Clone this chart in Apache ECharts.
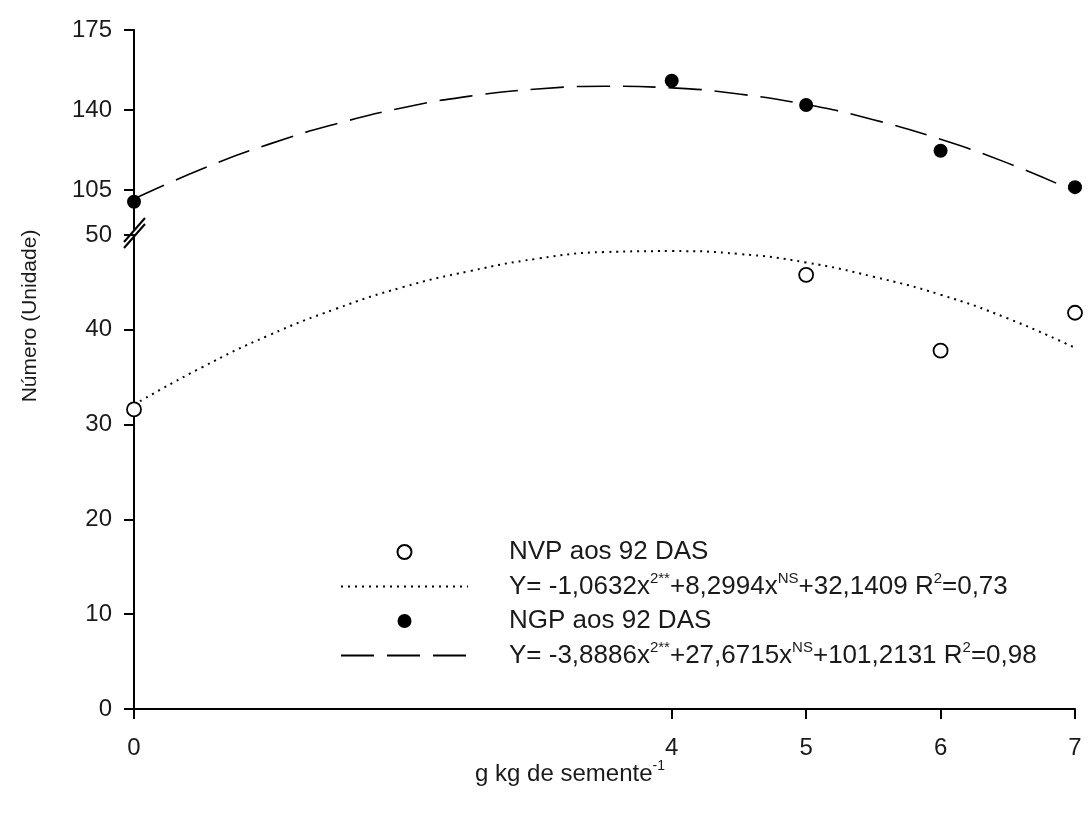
<!DOCTYPE html>
<html>
<head>
<meta charset="utf-8">
<title>NVP e NGP aos 92 DAS</title>
<script src="https://cdn.jsdelivr.net/npm/echarts@6/dist/echarts.min.js"></script>
<style>
  html, body { margin: 0; padding: 0; background: #fff; }
  #chart { width: 1088px; height: 823px; }
</style>
</head>
<body>
<div id="chart"></div>
<script>
// dose axis (g kg de semente-1) and tick labels
const xTicks = [0, 4, 5, 6, 7];
const upperTicks = [105, 140, 175];

// observed points
const ngpX = [0, 4, 5, 6, 7];
const ngpY = [99.9, 152.8, 142.2, 122.2, 106.3];
const nvpX = [0, 5, 6, 7];
const nvpY = [31.6, 45.8, 37.8, 41.8];

// fitted curves, every 0.5
const curveX = [0, 0.5, 1, 1.5, 2, 2.5, 3, 3.5, 4, 4.5, 5, 5.5, 6, 6.5, 7];
const ngpCurve = [101.2, 114.1, 125.0, 133.9, 141.0, 146.1, 149.2, 150.4, 149.7, 147.0, 142.4, 135.8, 127.2, 116.8, 104.4];
const nvpCurve = [32.1, 36.0, 39.4, 42.2, 44.5, 46.2, 47.5, 48.2, 48.3, 48.0, 47.1, 45.6, 43.7, 41.2, 38.1];

const FONT = '"Liberation Sans", Arial, sans-serif';
const INK = '#1a1a1a';

const legendText = {
  'NVP aos 92 DAS': 'NVP aos 92 DAS',
  'nvpFit': 'Y= -1,0632x{sup|2**}+8,2994x{sup|NS}+32,1409 R{sup|2}=0,73',
  'NGP aos 92 DAS': 'NGP aos 92 DAS',
  'ngpFit': 'Y= -3,8886x{sup|2**}+27,6715x{sup|NS}+101,2131 R{sup|2}=0,98'
};

const pairs = (xs, ys) => xs.map((x, i) => [x, ys[i]]);

const axisLine = { show: true, lineStyle: { color: '#000', width: 2 } };
const axisTick = { show: true, length: 10, lineStyle: { color: '#000', width: 2 } };
const axisLabel = { color: INK, fontSize: 24, fontFamily: FONT, margin: 22 };
// hides the dot that line series put in their legend icon
const noDot = { color: 'rgba(0,0,0,0)', borderColor: 'rgba(0,0,0,0)', borderWidth: 0 };

const chart = echarts.init(document.getElementById('chart'));

chart.setOption({
  animation: false,
  backgroundColor: '#fff',
  grid: [
    { left: 134, right: 13, top: 30, height: 199 },   // 88 .. 175
    { left: 134, right: 13, top: 235, height: 474 }   // 0 .. 50
  ],
  xAxis: [
    { type: 'value', gridIndex: 0, min: 0, max: 7, show: false },
    {
      type: 'value', gridIndex: 1, min: 0, max: 7,
      axisLine: axisLine,
      axisTick: Object.assign({ customValues: xTicks }, axisTick),
      axisLabel: Object.assign({ customValues: xTicks }, axisLabel, { margin: 27 }),
      splitLine: { show: false }
    }
  ],
  yAxis: [
    {
      type: 'value', gridIndex: 0, min: 88, max: 175,
      axisLine: axisLine,
      axisTick: Object.assign({ customValues: upperTicks }, axisTick),
      axisLabel: Object.assign({ customValues: upperTicks }, axisLabel),
      splitLine: { show: false }
    },
    {
      type: 'value', gridIndex: 1, min: 0, max: 50, interval: 10,
      axisLine: axisLine,
      axisTick: axisTick,
      axisLabel: axisLabel,
      splitLine: { show: false }
    }
  ],
  legend: {
    left: 340,
    top: 537,
    padding: 0,
    orient: 'vertical',
    itemWidth: 127,
    itemHeight: 14,
    itemGap: 4.5,
    selectedMode: false,
    data: ['NVP aos 92 DAS', 'nvpFit', 'NGP aos 92 DAS', 'ngpFit'],
    formatter: name => legendText[name],
    textStyle: {
      color: INK, fontSize: 26, fontFamily: FONT, lineHeight: 30,
      padding: [0, 0, 0, 36],
      rich: { sup: { fontSize: 15, fontFamily: FONT, color: INK, lineHeight: 14, verticalAlign: 'top' } }
    }
  },
  series: [
    {
      name: 'ngpFit', type: 'line', xAxisIndex: 0, yAxisIndex: 0,
      data: pairs(curveX, ngpCurve), smooth: true, symbol: 'none', clip: false,
      itemStyle: noDot,
      lineStyle: { color: '#000', width: 1.6, type: [33, 13] }
    },
    {
      name: 'NGP aos 92 DAS', type: 'scatter', xAxisIndex: 0, yAxisIndex: 0,
      data: pairs(ngpX, ngpY), symbol: 'circle', symbolSize: 14, clip: false, z: 5,
      itemStyle: { color: '#000', opacity: 1 }
    },
    {
      name: 'nvpFit', type: 'line', xAxisIndex: 1, yAxisIndex: 1,
      data: pairs(curveX, nvpCurve), smooth: true, symbol: 'none', clip: false,
      itemStyle: noDot,
      lineStyle: { color: '#000', width: 2, type: [2, 5] }
    },
    {
      name: 'NVP aos 92 DAS', type: 'scatter', xAxisIndex: 1, yAxisIndex: 1,
      data: pairs(nvpX, nvpY), symbol: 'circle', symbolSize: 14, clip: false, z: 5,
      itemStyle: { color: '#fff', borderColor: '#000', borderWidth: 1.8, opacity: 1 }
    }
  ],
  graphic: [
    // axis titles
    {
      type: 'text', x: 30, y: 316, rotation: Math.PI / 2,
      style: { text: 'Número (Unidade)', fill: INK, font: '21px ' + FONT, align: 'center', verticalAlign: 'middle' }
    },
    {
      type: 'text', x: 570, y: 774,
      style: {
        text: 'g kg de semente{sup|-1}', fill: INK, font: '24px ' + FONT,
        align: 'center', verticalAlign: 'middle', lineHeight: 30,
        rich: { sup: { fontSize: 14, fontFamily: FONT, fill: INK, lineHeight: 14, verticalAlign: 'top' } }
      }
    },
    // axis break marks
    { type: 'line', shape: { x1: 124, y1: 242, x2: 145, y2: 218 }, style: { stroke: '#000', lineWidth: 2 } },
    { type: 'line', shape: { x1: 124, y1: 248, x2: 145, y2: 224 }, style: { stroke: '#000', lineWidth: 2 } }
  ]
});
</script>
</body>
</html>
